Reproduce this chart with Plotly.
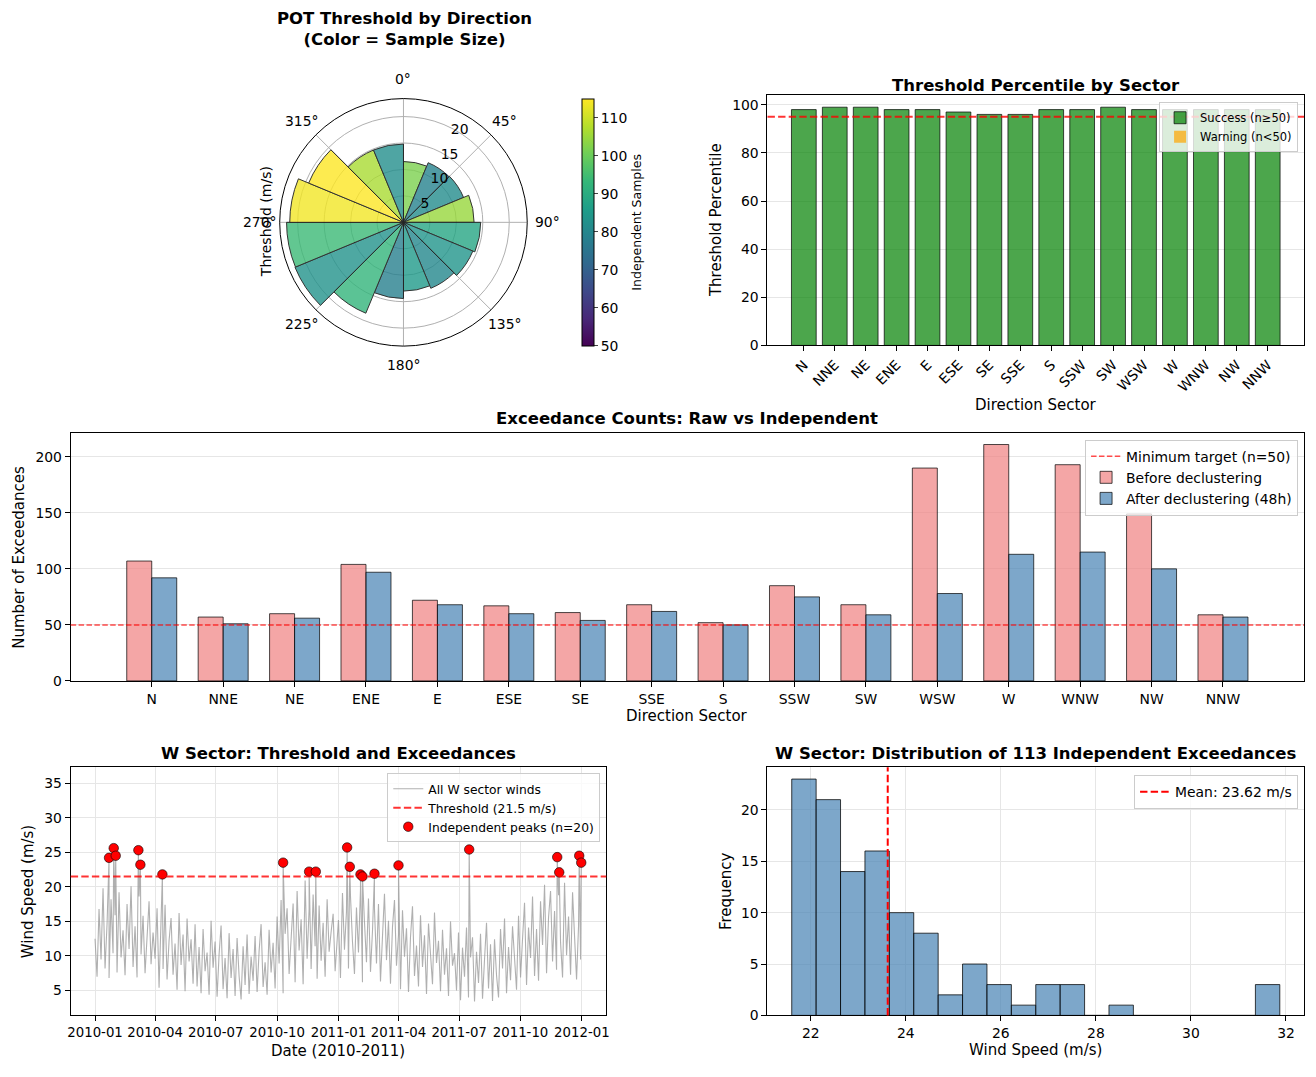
import numpy as np
import pandas as pd
import plotly.graph_objects as go

W, H = 1316, 1077

# ---------------- data ----------------
sectors = ["N", "NNE", "NE", "ENE", "E", "ESE", "SE", "SSE",
           "S", "SSW", "SW", "WSW", "W", "WNW", "NW", "NNW"]
sector_deg = [0, 22.5, 45, 67.5, 90, 112.5, 135, 157.5,
              180, 202.5, 225, 247.5, 270, 292.5, 315, 337.5]
threshold_ms = [11.5, 12.2, 12.3, 13.35, 14.6, 14.2, 13.5, 13.0,
                14.4, 18.6, 22.2, 22.1, 21.5, 19.4, 14.8, 14.8]
threshold_pct = [98, 99, 99, 98, 98, 97, 96, 96, 98, 98, 99, 98, 98, 98, 98, 98]
n_before = [107, 57, 60, 104, 72, 67, 61, 68, 52, 85, 68, 190, 211, 193, 149, 59]
n_after = [92, 51, 56, 97, 68, 60, 54, 62, 50, 75, 59, 78, 113, 115, 100, 57]
angle_ticks = [0, 45, 90, 135, 180, 225, 270, 315]
pct_target = 95
min_target = 50
w_threshold = 21.5

# W sector wind record (3-day steps)
wind_2010 = [
    12.5, 7.0, 16.8, 9.5, 19.8, 8.2, 14.6, 6.8, 18.2, 10.4,
    15.9, 7.6, 19.2, 9.8, 13.7, 7.2, 17.5, 11.0, 20.1, 8.4,
    14.3, 6.9, 18.6, 10.2, 15.8, 7.5, 12.9, 17.9, 8.8, 13.4,
    9.6, 16.9, 5.4, 13.8, 8.1, 17.4, 6.6, 12.2, 15.5, 7.3,
    11.8, 5.1, 16.2, 8.7, 13.1, 4.9, 15.4, 9.2, 12.4, 6.0,
    14.6, 5.6, 11.3, 4.6, 13.9, 7.8, 10.5, 4.4, 15.1, 8.3,
    12.1, 4.1, 10.2, 14.4, 5.2, 9.7, 3.9, 13.3, 6.8, 11.0,
    4.2, 12.6, 7.1, 3.7, 11.4, 5.8, 13.1, 4.5, 9.9, 6.4,
    12.9, 4.8, 10.7, 14.6, 5.5, 9.1, 4.4, 13.8, 7.6, 11.9,
    5.3, 15.7, 8.9, 18.1, 4.6, 13.2, 16.9, 7.4, 12.6, 17.6,
    6.2, 19.4, 10.8, 15.3, 5.9, 20.9, 9.6, 16.8, 8.1, 18.9,
    11.4, 6.7, 17.3, 9.3, 14.8, 7.0, 18.2, 10.6, 13.5, 16.1, 7.8, 12.3,
]
wind_2011 = [
    15.2, 6.8, 19.1, 10.9, 16.4, 8.2, 18.7, 12.1, 7.4, 17.0,
    10.5, 19.6, 6.2, 14.9, 9.1, 18.3, 7.7, 13.6, 16.8, 8.9,
    17.5, 6.3, 12.8, 19.0, 9.4, 15.1, 6.0, 14.2, 18.1, 8.6,
    13.1, 5.2, 16.6, 9.9, 14.0, 4.8, 12.7, 17.2, 7.1, 11.5,
    5.6, 15.9, 8.4, 13.0, 4.5, 14.7, 10.1, 5.9, 16.3, 9.0,
    12.2, 4.9, 13.8, 7.3, 11.1, 4.2, 15.0, 8.6, 10.4, 5.0,
    13.4, 3.6, 11.2, 7.0, 14.1, 4.0, 9.8, 12.7, 3.4, 10.6,
    6.1, 13.2, 3.8, 9.5, 14.8, 5.3, 11.7, 3.5, 12.4, 7.2,
    4.0, 13.9, 8.2, 15.4, 4.6, 11.3, 6.5, 14.3, 9.4, 5.1,
    15.8, 6.9, 12.5, 17.7, 5.8, 14.1, 9.7, 18.6, 7.1, 13.9,
    6.4, 17.9, 11.6, 20.3, 7.5, 15.6, 19.4, 9.2, 16.5, 8.0,
    18.8, 12.0, 6.9, 20.6, 10.1, 15.7, 7.3, 19.2, 12.8, 6.6, 14.4, 9.5,
]
peak_dates = ["2010-01-22", "2010-01-29", "2010-02-01", "2010-03-07", "2010-03-10",
              "2010-04-12", "2010-10-10", "2010-11-18", "2010-11-28", "2011-01-14",
              "2011-01-18", "2011-02-03", "2011-02-06", "2011-02-24", "2011-04-01",
              "2011-07-16", "2011-11-25", "2011-11-28", "2011-12-28", "2011-12-31"]
peak_vals = [24.2, 25.6, 24.5, 25.3, 23.2, 21.8, 23.5, 22.2, 22.2, 25.7,
             22.9, 21.8, 21.5, 21.9, 23.1, 25.4, 24.3, 22.1, 24.5, 23.5]

# histogram of W sector independent exceedances
hist_lo, hist_hi = 21.60, 31.87
hist_counts = [23, 21, 14, 16, 10, 8, 2, 5, 3, 1, 3, 3, 0, 1, 0, 0, 0, 0, 0, 3]
w_mean = 23.62

# ---------------- helpers ----------------
def fx(p):
    return p / W

def fy(p):
    return 1 - p / H

FONT = "DejaVu Sans"
GRID = "#e6e6e6"
TICK = 13.9

# polar frame (pixels)
P_X0, P_X1, P_Y0, P_Y1 = 277.6, 527.0, 99.3, 348.7
P_CX, P_CY = (P_X0 + P_X1) / 2, (P_Y0 + P_Y1) / 2
P_R = (P_X1 - P_X0) / 2

fig = go.Figure()

# ---- polar ----
fig.add_trace(go.Barpolar(
    r=threshold_ms,
    theta=[d + 11.25 for d in sector_deg],
    width=[22.5] * len(sector_deg),
    marker=dict(color=n_after, colorscale="Viridis", cmin=0, cmax=max(n_after),
                line=dict(color="black", width=1)),
    opacity=0.8, showlegend=False, subplot="polar",
))
# colorbar carrier
fig.add_trace(go.Scatter(
    x=[0, 1], y=[0, 0], mode="markers", xaxis="x5", yaxis="y5",
    marker=dict(color=[min(n_after), max(n_after)], colorscale="Viridis",
                cmin=min(n_after), cmax=max(n_after), opacity=0, showscale=True,
                colorbar=dict(x=581.5 / W, xanchor="left", xpad=0, y=fy(224), yanchor="middle",
                              ypad=0, len=249 / H, lenmode="fraction", thickness=12,
                              outlinecolor="black", outlinewidth=1,
                              tickvals=[50, 60, 70, 80, 90, 100, 110], ticks="outside",
                              ticklen=4, tickfont=dict(size=TICK),
                              title=dict(text="Independent Samples", side="right",
                                         font=dict(size=12.5)))),
    showlegend=False, hoverinfo="skip",
))

# ---- top-right percentile bars ----
pct_colors = ["rgba(0,128,0,0.7)" if n >= 50 else "rgba(255,165,0,0.7)" for n in n_after]
fig.add_trace(go.Bar(
    x=list(range(len(sectors))), y=threshold_pct, width=0.8,
    marker=dict(color=pct_colors, line=dict(color="rgba(0,0,0,0.7)", width=1)),
    name="Success (n≥50)", legend="legend", xaxis="x", yaxis="y",
))
fig.add_trace(go.Bar(
    x=[None], y=[None], name="Warning (n<50)", legend="legend", xaxis="x", yaxis="y",
    marker=dict(color="rgba(255,165,0,0.7)", line=dict(color="rgba(0,0,0,0)", width=0)),
))

# ---- middle counts ----
fig.add_trace(go.Scatter(
    x=[None], y=[None], mode="lines", name="Minimum target (n=50)", legend="legend2",
    line=dict(color="rgba(255,0,0,0.7)", width=1.5, dash="5.5px,2.4px"),
    xaxis="x2", yaxis="y2",
))
fig.add_trace(go.Bar(
    x=list(range(len(sectors))), y=n_before, width=0.35, offset=-0.35,
    marker=dict(color="rgba(240,128,128,0.7)", line=dict(color="rgba(0,0,0,0.7)", width=1)),
    name="Before declustering", legend="legend2", xaxis="x2", yaxis="y2",
))
fig.add_trace(go.Bar(
    x=list(range(len(sectors))), y=n_after, width=0.35, offset=0,
    marker=dict(color="rgba(70,130,180,0.7)", line=dict(color="rgba(0,0,0,0.7)", width=1)),
    name="After declustering (48h)", legend="legend2", xaxis="x2", yaxis="y2",
))

# ---- bottom-left time series ----
base = pd.concat([
    pd.DataFrame({"t": pd.date_range("2010-01-01", periods=len(wind_2010), freq="3D"), "v": wind_2010}),
    pd.DataFrame({"t": pd.date_range("2011-01-01", periods=len(wind_2011), freq="3D"), "v": wind_2011}),
    pd.DataFrame({"t": pd.to_datetime(peak_dates), "v": peak_vals}),
]).sort_values("t")
fig.add_trace(go.Scatter(
    x=base["t"], y=base["v"], mode="lines", name="All W sector winds", legend="legend3",
    line=dict(color="rgba(150,150,150,0.75)", width=1.1), xaxis="x3", yaxis="y3",
))
fig.add_trace(go.Scatter(
    x=[None], y=[None], mode="lines", name=f"Threshold ({w_threshold} m/s)", legend="legend3",
    line=dict(color="rgba(255,0,0,0.8)", width=2, dash="7.4px,3.2px"), xaxis="x3", yaxis="y3",
))
fig.add_trace(go.Scatter(
    x=pd.to_datetime(peak_dates), y=peak_vals, mode="markers",
    name=f"Independent peaks (n={len(peak_vals)})", legend="legend3",
    marker=dict(color="red", size=9.5, line=dict(color="black", width=0.6)),
    xaxis="x3", yaxis="y3",
))

# ---- bottom-right histogram ----
edges = np.linspace(hist_lo, hist_hi, len(hist_counts) + 1)
centers = (edges[:-1] + edges[1:]) / 2
fig.add_trace(go.Bar(
    x=centers, y=hist_counts, width=np.diff(edges),
    marker=dict(color="rgba(70,130,180,0.7)", line=dict(color="rgba(0,0,0,0.75)", width=1)),
    showlegend=False, xaxis="x4", yaxis="y4",
))
fig.add_trace(go.Scatter(
    x=[None], y=[None], mode="lines", name=f"Mean: {w_mean:.2f} m/s", legend="legend4",
    line=dict(color="red", width=2, dash="7.4px,3.2px"), xaxis="x4", yaxis="y4",
))

# ---------------- shapes ----------------
shapes = [
    dict(type="line", xref="x domain", x0=0, x1=1, yref="y", y0=pct_target, y1=pct_target,
         line=dict(color="rgba(255,0,0,0.8)", width=2, dash="7.4px,3.2px")),
    dict(type="line", xref="x2 domain", x0=0, x1=1, yref="y2", y0=min_target, y1=min_target,
         line=dict(color="rgba(255,0,0,0.7)", width=1.5, dash="5.5px,2.4px")),
    dict(type="line", xref="x3 domain", x0=0, x1=1, yref="y3", y0=w_threshold, y1=w_threshold,
         line=dict(color="rgba(255,0,0,0.8)", width=2, dash="7.4px,3.2px")),
    dict(type="line", xref="x4", x0=w_mean, x1=w_mean, yref="y4 domain", y0=0, y1=1,
         line=dict(color="red", width=2, dash="7.4px,3.2px")),
]

# ---------------- axes ----------------
def ax(**kw):
    base_kw = dict(showline=True, linecolor="black", linewidth=1, mirror=True,
                   ticks="outside", ticklen=5, tickwidth=1, tickcolor="black",
                   zeroline=False, showgrid=False, tickfont=dict(size=TICK))
    base_kw.update(kw)
    return base_kw

layout = dict(
    width=W, height=H, margin=dict(l=0, r=0, t=0, b=0),
    paper_bgcolor="white", plot_bgcolor="white",
    font=dict(family=FONT, size=TICK, color="black"),
    barmode="overlay",
    shapes=shapes,
    polar=dict(
        domain=dict(x=[fx(P_X0), fx(P_X1)], y=[fy(P_Y1), fy(P_Y0)]),
        bgcolor="white",
        angularaxis=dict(rotation=90, direction="clockwise", tickmode="array",
                         tickvals=angle_ticks, showticklabels=False,
                         showline=True, linecolor="black", linewidth=1, gridcolor="#b0b0b0",
                         gridwidth=0.8, ticks="", layer="above traces"),
        radialaxis=dict(range=[0, 23.4], tickvals=[5, 10, 15, 20], angle=67.5, tickangle=67.5,
                        showline=False, gridcolor="#b0b0b0", gridwidth=0.8, ticks="",
                        tickfont=dict(size=TICK), layer="above traces"),
    ),
    xaxis=ax(domain=[fx(768), fx(1307)], anchor="y", range=[-1.175, 16.175],
             tickmode="array", tickvals=list(range(16)), ticktext=sectors, tickangle=-45),
    yaxis=ax(domain=[fy(348), fy(96)], anchor="x", range=[0, 103.95], dtick=20,
             showgrid=True, gridcolor=GRID),
    xaxis2=ax(domain=[fx(68), fx(1307)], anchor="y2", range=[-1.135, 16.135],
              tickmode="array", tickvals=list(range(16)), ticktext=sectors, tickangle=0),
    yaxis2=ax(domain=[fy(686), fy(436)], anchor="x2", range=[0, 221.5],
              tickvals=[0, 50, 100, 150, 200], showgrid=True, gridcolor=GRID),
    xaxis3=ax(domain=[fx(68), fx(606)], anchor="y3", type="date",
              range=["2009-11-25 12:00", "2012-02-06 12:00"], tick0="2010-01-01",
              dtick="M3", tickformat="%Y-%m", tickangle=0, tickfont=dict(size=13.3),
              showgrid=True, gridcolor=GRID),
    yaxis3=ax(domain=[fy(1023), fy(773)], anchor="x3", range=[1.4, 37.3], tick0=5, dtick=5,
              showgrid=True, gridcolor=GRID),
    xaxis4=ax(domain=[fx(768), fx(1307)], anchor="y4", range=[21.09, 32.38], dtick=2,
              tickangle=0, showgrid=True, gridcolor=GRID),
    yaxis4=ax(domain=[fy(1023), fy(773)], anchor="x4", range=[0, 24.15], dtick=5,
              showgrid=True, gridcolor=GRID),
    xaxis5=dict(domain=[0, 0.01], anchor="y5", visible=False),
    yaxis5=dict(domain=[0, 0.01], anchor="x5", visible=False),
)

leg_common = dict(xanchor="right", yanchor="top", bgcolor="rgba(255,255,255,0.8)",
                  bordercolor="#cccccc", borderwidth=1, itemwidth=30, tracegroupgap=0)
layout["legend"] = dict(x=fx(1301), y=fy(103), font=dict(size=11.5), **leg_common)
layout["legend2"] = dict(x=fx(1301), y=fy(443), font=dict(size=13.9), **leg_common)
layout["legend3"] = dict(x=fx(600), y=fy(779), font=dict(size=12.3), **leg_common)
layout["legend4"] = dict(x=fx(1301), y=fy(781), font=dict(size=13.9), **leg_common)

# ---------------- text ----------------
def ann(text, x, y, size, bold=False, angle=0, xanchor="center", yanchor="middle"):
    return dict(text=f"<b>{text}</b>" if bold else text, x=fx(x), y=fy(y), xref="paper",
                yref="paper", showarrow=False, font=dict(size=size), textangle=angle,
                xanchor=xanchor, yanchor=yanchor)

annotations = [
    ann("POT Threshold by Direction<br>(Color = Sample Size)", 403, 29, 16.5, bold=True),
    ann("Threshold Percentile by Sector", 1037.5, 86, 16.5, bold=True),
    ann("Exceedance Counts: Raw vs Independent", 687.5, 422, 16.5, bold=True),
    ann("W Sector: Threshold and Exceedances", 337, 759, 16.5, bold=True),
    ann(f"W Sector: Distribution of {sum(hist_counts)} Independent Exceedances", 1037.5, 759, 16.5, bold=True),
    ann("Threshold (m/s)", 265, 223, 14, angle=-90),
    ann("Direction Sector", 1037.5, 408, 15),
    ann("Threshold Percentile", 717, 222, 15, angle=-90),
    ann("Direction Sector", 687.5, 721, 15),
    ann("Number of Exceedances", 16, 561, 15, angle=-90),
    ann("Date (2010-2011)", 337, 1059, 15),
    ann("Wind Speed (m/s)", 25, 898, 15, angle=-90),
    ann("Wind Speed (m/s)", 1037.5, 1058, 15),
    ann("Frequency", 727, 898, 15, angle=-90),
]
# angular tick labels placed like matplotlib (outside the outer circle)
for a in angle_ticks:
    rad = np.deg2rad(a)
    lx = P_CX + (P_R + 19.5) * np.sin(rad)
    ly = P_CY - (P_R + 19.5) * np.cos(rad)
    annotations.append(ann(f"{a}°", lx, ly, TICK))
layout["annotations"] = annotations

fig.update_layout(**layout)
fig.write_html("out.html")
